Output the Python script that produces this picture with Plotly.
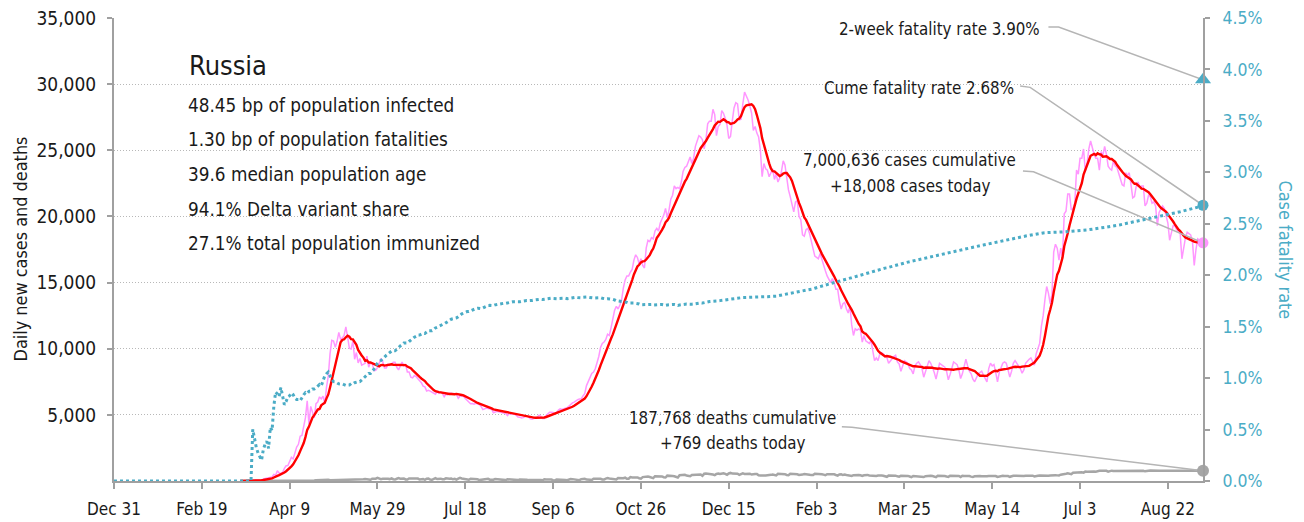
import numpy as np
import pandas as pd
import plotly.graph_objects as go

# ---------------------------------------------------------------------------
# Russia: daily reported COVID-19 cases and deaths, one value per day
# starting 2019-12-31 (rows are weeks, Tuesday..Monday)
# ---------------------------------------------------------------------------
START = pd.Timestamp("2019-12-31")

daily_cases = [
    0, 0, 0, 0, 0, 0, 0,
    0, 0, 0, 0, 0, 0, 0,
    0, 0, 0, 0, 0, 0, 0,
    0, 0, 0, 0, 0, 0, 0,
    0, 0, 0, 2, 0, 0, 0,
    0, 0, 0, 0, 0, 0, 0,
    0, 0, 0, 0, 0, 0, 0,
    0, 0, 0, 0, 0, 0, 0,
    0, 0, 0, 0, 0, 0, 1,
    0, 0, 1, 0, 9, 0, 4,
    3, 8, 8, 6, 11, 14, 26,
    21, 33, 52, 54, 53, 61, 71,
    57, 163, 182, 196, 228, 270, 302,
    501, 440, 771, 601, 582, 658, 954,
    1154, 1175, 1459, 1786, 1667, 2186, 2558,
    2774, 3388, 3448, 4070, 4785, 6060, 4268,
    5642, 5236, 4774, 5849, 5966, 6361, 6198,
    6411, 5841, 7099, 7933, 9623, 10633, 10581,
    10102, 10559, 11231, 10699, 10817, 11012, 11656,
    10899, 10028, 9974, 10598, 9200, 9709, 8926,
    9263, 8764, 8849, 8894, 9434, 8599, 8946,
    8915, 8338, 8371, 8572, 8952, 9268, 9035,
    8536, 8536, 8831, 8726, 8855, 8984, 8985,
    8595, 8404, 8779, 8987, 8706, 8835, 8246,
    8248, 7843, 7790, 7972, 7889, 7728, 7600,
    7425, 7176, 7113, 6800, 6852, 6791, 6719,
    6693, 6556, 6760, 6632, 6736, 6611, 6368,
    6562, 6509, 6635, 6632, 6611, 6615, 6537,
    6248, 6422, 6428, 6406, 6234, 6109, 5940,
    5842, 5862, 5811, 5871, 5848, 5765, 5635,
    5395, 5475, 5509, 5482, 5462, 5427, 5159,
    5204, 5267, 5241, 5212, 5189, 5118, 5102,
    4945, 5102, 5065, 5061, 5056, 4969, 4839,
    4828, 4767, 4790, 4870, 4921, 4852, 4696,
    4676, 4711, 4758, 4829, 4980, 4897, 4729,
    4729, 4952, 5110, 5205, 5195, 5185, 5099,
    5185, 5363, 5449, 5406, 5488, 5509, 5529,
    5670, 5762, 5905, 5961, 6065, 6148, 6196,
    6215, 6431, 6595, 7212, 7523, 7867, 8135,
    8232, 8481, 8945, 9412, 10100, 10400, 10500,
    10700, 11100, 11000, 11600, 12300, 12900, 13200,
    13000, 13300, 13700, 14600, 15200, 15500, 15500,
    15800, 16000, 16700, 17100, 16900, 16400, 16800,
    16300, 16100, 17600, 18200, 18100, 18400, 18300,
    18900, 19100, 18900, 19500, 19800, 20100, 20600,
    19900, 20500, 21300, 21600, 22300, 22100, 22200,
    22100, 22600, 23400, 23700, 23800, 24200, 24500,
    24000, 24400, 25300, 25800, 26100, 26000, 25800,
    25100, 25800, 27000, 27200, 27200, 28100, 27700,
    26100, 26800, 26950, 28000, 27800, 27400, 26900,
    25900, 26050, 27200, 28200, 28600, 28500, 27300,
    27350, 28500, 29400, 29100, 28800, 28350, 27800,
    26500, 26800, 26300, 26000, 25000, 23000, 24000,
    23600, 23500, 23000, 23300, 23600, 22800, 23200,
    22600, 22900, 23400, 24200, 23900, 22800, 22000,
    21500, 21000, 20350, 21100, 21200, 20000, 19750,
    18600, 18500, 19000, 19100, 18700, 18100, 17500,
    17000, 16900, 16800, 17200, 16700, 16400, 15900,
    15500, 15200, 15000, 15300, 15000, 14500, 14500,
    13600, 13000, 13400, 13500, 13000, 12700, 13200,
    11800, 11000, 11500, 11400, 11500, 11400, 10500,
    11000, 10600, 10500, 10400, 10600, 9900, 9100,
    9300, 9100, 9600, 9700, 9600, 9500, 9350,
    8900, 9100, 9300, 9400, 9500, 9000, 8850,
    8300, 8700, 9100, 9000, 8900, 8500, 8400,
    8100, 8700, 8900, 9000, 8800, 8500, 7850,
    8300, 8700, 9100, 8900, 8600, 8200, 7700,
    8200, 8900, 8800, 8700, 8600, 8300, 7650,
    8050, 8600, 9000, 8900, 8800, 8400, 7750,
    8100, 8700, 9200, 8700, 8300, 8100, 7700,
    7500, 7800, 8100, 8200, 8300, 8000, 7750,
    7500, 8500, 8900, 8700, 8800, 8200, 7500,
    8200, 8600, 8900, 9000, 8900, 8400, 7850,
    8300, 8900, 9100, 8900, 8700, 8500, 8150,
    8400, 8900, 9100, 9200, 9300, 9000, 8750,
    9600, 10100, 10400, 11700, 12500, 13700, 14700,
    14200, 13400, 14100, 17300, 17900, 17600, 16700,
    17600, 16900, 20200, 20400, 21700, 21700, 20500,
    20600, 21000, 23500, 23200, 24400, 24400, 25100,
    23400, 24000, 25100, 25700, 25100, 24700, 24400,
    24400, 23500, 24900, 24600, 25300, 24700, 23800,
    23600, 23500, 24200, 23800, 23700, 23200, 22800,
    22400, 22300, 23300, 23100, 23300, 22400, 21400,
    21500, 22300, 22600, 22200, 22300, 22300, 20800,
    21000, 21600, 21500, 21000, 21100, 20800, 19300,
    20300, 20600, 20800, 20600, 20000, 19500, 18200,
    18900, 19300, 19300, 19000, 18900, 18700, 16800,
    17800, 18400, 18800, 18700, 18600, 18100, 16300,
    17500, 18300, 18200, 18100, 18008,
]

daily_deaths = [
    0, 0, 0, 0, 0, 0, 0,
    0, 0, 0, 0, 0, 0, 0,
    0, 0, 0, 0, 0, 0, 0,
    0, 0, 0, 0, 0, 0, 0,
    0, 0, 0, 0, 0, 0, 0,
    0, 0, 0, 0, 0, 0, 0,
    0, 0, 0, 0, 0, 0, 0,
    0, 0, 0, 0, 0, 0, 0,
    0, 0, 0, 0, 0, 0, 0,
    0, 0, 0, 0, 0, 0, 0,
    0, 0, 0, 0, 0, 0, 0,
    0, 0, 1, 0, 0, 0, 0,
    0, 1, 1, 1, 0, 4, 1,
    8, 7, 6, 4, 9, 2, 2,
    11, 13, 13, 18, 12, 13, 18,
    22, 24, 36, 41, 48, 48, 47,
    51, 57, 42, 60, 66, 72, 47,
    108, 101, 96, 101, 57, 58, 76,
    95, 86, 88, 98, 104, 88, 94,
    107, 96, 128, 93, 119, 113, 94,
    91, 135, 127, 150, 139, 153, 92,
    174, 161, 174, 232, 181, 138, 162,
    182, 178, 169, 144, 197, 134, 112,
    171, 216, 174, 181, 194, 119, 113,
    193, 194, 181, 182, 161, 181, 109,
    153, 154, 92, 176, 188, 104, 93,
    154, 216, 147, 168, 176, 134, 135,
    198, 173, 174, 188, 130, 169, 104,
    175, 232, 186, 164, 161, 155, 95,
    165, 167, 154, 129, 128, 70, 85,
    147, 161, 169, 161, 95, 70, 96,
    144, 129, 128, 124, 114, 94, 70,
    130, 115, 119, 129, 94, 68, 70,
    114, 121, 122, 112, 96, 68, 69,
    122, 118, 112, 127, 110, 73, 56,
    123, 115, 119, 110, 106, 62, 46,
    114, 114, 119, 113, 119, 71, 55,
    134, 150, 141, 112, 136, 76, 65,
    136, 150, 169, 108, 117, 99, 76,
    172, 166, 177, 186, 169, 117, 107,
    185, 220, 186, 171, 181, 160, 111,
    224, 213, 220, 213, 257, 171, 169,
    292, 263, 284, 260, 271, 211, 180,
    294, 318, 327, 337, 307, 259, 219,
    358, 355, 344, 327, 349, 288, 263,
    404, 407, 420, 378, 356, 318, 267,
    442, 456, 463, 467, 411, 401, 361,
    456, 463, 524, 491, 510, 496, 397,
    545, 565, 530, 535, 515, 485, 445,
    535, 560, 525, 555, 585, 535, 465,
    570, 610, 560, 565, 585, 545, 465,
    530, 575, 535, 550, 545, 550, 490,
    540, 535, 535, 430, 415, 440, 420,
    420, 430, 415, 465, 495, 445, 420,
    540, 525, 545, 545, 515, 455, 435,
    545, 545, 525, 545, 510, 460, 445,
    485, 530, 525, 520, 475, 445, 445,
    547, 548, 534, 505, 514, 480, 438,
    517, 523, 493, 511, 505, 456, 413,
    490, 506, 449, 480, 452, 435, 376,
    379, 437, 459, 449, 448, 435, 390,
    438, 465, 461, 423, 412, 388, 346,
    387, 417, 441, 409, 396, 367, 320,
    409, 417, 402, 416, 401, 352, 329,
    388, 401, 412, 397, 386, 342, 289,
    381, 371, 378, 380, 374, 339, 301,
    366, 387, 391, 393, 376, 339, 295,
    393, 400, 405, 394, 376, 338, 314,
    401, 396, 397, 386, 379, 378, 308,
    399, 387, 389, 387, 374, 331, 312,
    352, 368, 374, 371, 358, 345, 339,
    364, 382, 392, 399, 390, 374, 307,
    358, 388, 401, 384, 383, 373, 317,
    376, 398, 400, 394, 395, 396, 348,
    373, 394, 404, 387, 404, 400, 347,
    395, 394, 413, 405, 394, 414, 361,
    395, 420, 440, 425, 440, 425, 415,
    475, 515, 545, 545, 575, 575, 520,
    630, 645, 650, 655, 675, 655, 630,
    710, 700, 710, 725, 760, 720, 695,
    763, 774, 769, 774, 778, 767, 709,
    762, 782, 765, 767, 775, 771, 747,
    773, 775, 773, 776, 764, 781, 761,
    775, 770, 772, 774, 775, 772, 731,
    774, 780, 791, 782, 771, 769, 735,
    782, 781, 772, 768, 782, 773, 736,
    778, 783, 788, 778, 788, 788, 753,
    773, 783, 788, 788, 788, 783, 768,
    785, 790, 796, 781, 769,
]

# x-axis ticks every 50 days
tick_offsets = [0, 50, 100, 150, 200, 250, 300, 350, 400, 450, 500, 550, 600]
tick_labels = ["Dec 31", "Feb 19", "Apr 9", "May 29", "Jul 18", "Sep 6", "Oct 26",
               "Dec 15", "Feb 3", "Mar 25", "May 14", "Jul 3", "Aug 22"]

left_ticks = [5000, 10000, 15000, 20000, 25000, 30000, 35000]
right_ticks = [0.0, 0.005, 0.01, 0.015, 0.02, 0.025, 0.03, 0.035, 0.04, 0.045]

country = "Russia"
facts = [
    "48.45 bp of population infected",
    "1.30 bp of population fatalities",
    "39.6 median population age",
    "94.1% Delta variant share",
    "27.1% total population immunized",
]
cases_cumulative = 7000636
deaths_cumulative = 187768
cume_fatality_rate = 0.0268
two_week_fatality_rate = 0.0390
lines_from = "2020-03-12"   # case / death lines begin here

# ---------------------------------------------------------------------------
FONT = "DejaVu Sans Condensed, Liberation Sans Narrow, Arial Narrow, sans-serif"
INK = "#1a1a1a"
PINK = "#ff96ff"
RED = "#ff0000"
GREY = "#a6a6a6"
TEAL = "#4bacc6"
AXIS = "#a0a0a0"
LEADER = "#b5b5b5"

PLOT_TOP, PLOT_BOTTOM = 18, 481   # plot area in px (margins below)


def at(n):
    return START + pd.Timedelta(days=n)


def paper_y(px):
    return (PLOT_BOTTOM - px) / (PLOT_BOTTOM - PLOT_TOP)


dates = pd.date_range(START, periods=len(daily_cases), freq="D")
cases = pd.Series(daily_cases, index=dates, dtype=float)
deaths = pd.Series(daily_deaths, index=dates, dtype=float)
avg7 = cases.rolling(7, min_periods=1).mean()
cum_c = cases.cumsum().to_numpy()
cum_d = deaths.cumsum().to_numpy()
cfr = np.divide(cum_d, cum_c, out=np.zeros_like(cum_d), where=cum_c > 0)

shown = dates >= pd.Timestamp(lines_from)
last = dates[-1]

fig = go.Figure()

fig.add_trace(go.Scatter(x=dates[shown], y=cases[shown], mode="lines",
                         line=dict(color=PINK, width=1.5), hoverinfo="skip"))
fig.add_trace(go.Scatter(x=dates[shown], y=deaths[shown], mode="lines",
                         line=dict(color=GREY, width=2.5), hoverinfo="skip"))
fig.add_trace(go.Scatter(x=dates[shown], y=avg7[shown], mode="lines",
                         line=dict(color=RED, width=2.4), hoverinfo="skip"))
fig.add_trace(go.Scatter(x=dates, y=cfr, mode="lines", yaxis="y2",
                         line=dict(color=TEAL, width=3, dash="dot"), hoverinfo="skip"))

# leader lines from the callouts to the latest values
leaders = [
    ([at(532.0), at(537.8), last], [0.04413, 0.04413, two_week_fatality_rate], "y2"),
    ([at(515.9), at(521.6), last], [0.03839, 0.03826, cume_fatality_rate], "y2"),
    ([at(517.5), at(523.5), last], [23433, 23380, daily_cases[-1]], "y"),
    ([at(414.4), at(420.1), last], [4105, 4059, daily_deaths[-1]], "y"),
]
for xs, ys, ax in leaders:
    fig.add_trace(go.Scatter(x=xs, y=ys, yaxis=ax, mode="lines",
                             line=dict(color=LEADER, width=1.5), hoverinfo="skip"))

# end-point markers
fig.add_trace(go.Scatter(x=[last], y=[daily_cases[-1]], mode="markers", cliponaxis=False,
                         marker=dict(color=PINK, size=11), hoverinfo="skip"))
fig.add_trace(go.Scatter(x=[last], y=[daily_deaths[-1]], mode="markers", cliponaxis=False,
                         marker=dict(color=GREY, size=12), hoverinfo="skip"))
fig.add_trace(go.Scatter(x=[last], y=[cume_fatality_rate], yaxis="y2", mode="markers",
                         cliponaxis=False, marker=dict(color=TEAL, size=11), hoverinfo="skip"))
fig.add_trace(go.Scatter(x=[last], y=[two_week_fatality_rate], yaxis="y2", mode="markers",
                         cliponaxis=False, marker=dict(color=TEAL, size=14, symbol="triangle-up"),
                         hoverinfo="skip"))

CALLOUT = 16.8
annotations = [
    dict(x=at(528.5), y=0.04393, xref="x", yref="y2", xanchor="right",
         text=f"2-week fatality rate {two_week_fatality_rate:.2%}", size=CALLOUT),
    dict(x=at(513.7), y=0.03817, xref="x", yref="y2", xanchor="right",
         text=f"Cume fatality rate {cume_fatality_rate:.2%}", size=CALLOUT),
    dict(x=at(453.0), y=24264, xref="x", yref="y", xanchor="center",
         text=f"{cases_cumulative:,} cases cumulative", size=CALLOUT),
    dict(x=at(453.3), y=22314, xref="x", yref="y", xanchor="center",
         text=f"+{daily_cases[-1]:,} cases today", size=CALLOUT),
    dict(x=at(351.9), y=4800, xref="x", yref="y", xanchor="center",
         text=f"{deaths_cumulative:,} deaths cumulative", size=CALLOUT),
    dict(x=at(352.5), y=2910, xref="x", yref="y", xanchor="center",
         text=f"+{daily_deaths[-1]:,} deaths today", size=CALLOUT),
    dict(x=0.0668, y=paper_y(65.8), xref="paper", yref="paper", xanchor="left",
         text=country, size=27),
    dict(x=-0.0863, y=0.5, xref="paper", yref="paper", xanchor="center",
         textangle=-90, text="Daily new cases and deaths", size=17.9),
    dict(x=1.0753, y=0.5, xref="paper", yref="paper", xanchor="center",
         textangle=90, text="Case fatality rate", size=17.9, color=TEAL),
]
for i, line in enumerate(facts):
    annotations.append(dict(x=0.0665, y=paper_y(105 + 34.7 * i), xref="paper",
                            yref="paper", xanchor="left", text=line, size=18.8))

layout_annotations = []
for a in annotations:
    size = a.pop("size")
    color = a.pop("color", INK)
    a.update(showarrow=False, yanchor="middle",
             font=dict(family=FONT, color=color, size=size))
    layout_annotations.append(a)

fig.update_layout(
    width=1304, height=522,
    margin=dict(l=114, r=101, t=PLOT_TOP, b=522 - PLOT_BOTTOM),
    paper_bgcolor="white", plot_bgcolor="white",
    showlegend=False,
    font=dict(family=FONT, color=INK),
    annotations=layout_annotations,
    xaxis=dict(
        type="date", range=[START, last], automargin=False,
        tickvals=[at(d) for d in tick_offsets], ticktext=tick_labels,
        ticks="outside", ticklen=6, tickwidth=2, tickcolor=AXIS,
        showline=True, linecolor=AXIS, linewidth=2,
        showgrid=False, zeroline=False, ticklabelstandoff=6,
        tickfont=dict(family=FONT, size=17, color=INK),
    ),
    yaxis=dict(
        range=[0, 35000], tickvals=left_ticks, tickformat=",", automargin=False,
        ticks="outside", ticklen=5, tickwidth=2, tickcolor=AXIS,
        showline=True, linecolor=AXIS, linewidth=2,
        showgrid=True, gridcolor="#b8b8b8", gridwidth=1, griddash="1px,2px",
        zeroline=False, ticklabelstandoff=7,
        tickfont=dict(family=FONT, size=19, color=INK),
    ),
    yaxis2=dict(
        overlaying="y", side="right", anchor="x", automargin=False,
        range=[0, 0.045], tickvals=right_ticks, tickformat=".1%",
        ticks="outside", ticklen=5, tickwidth=2, tickcolor=AXIS,
        showline=True, linecolor=AXIS, linewidth=2,
        showgrid=False, zeroline=False, ticklabelstandoff=9,
        tickfont=dict(family=FONT, size=17.5, color=TEAL),
    ),
)

fig.write_html("out.html", config={"displayModeBar": False})
